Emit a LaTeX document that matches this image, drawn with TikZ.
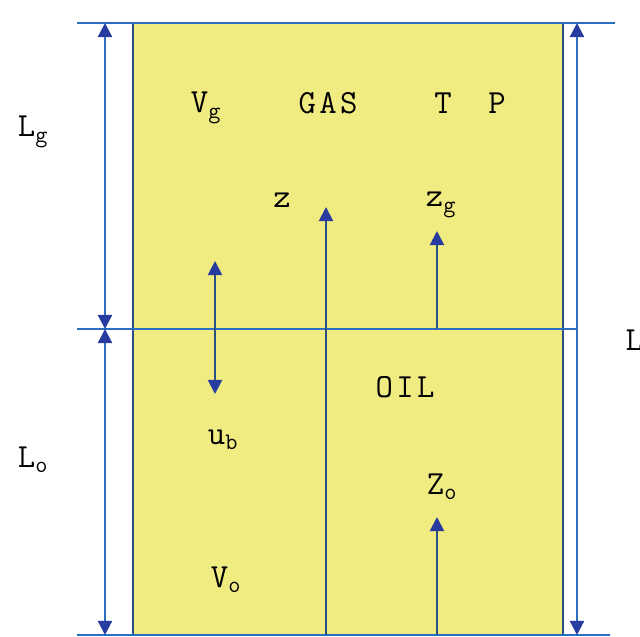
\documentclass[tikz,border=0pt]{standalone}
\usepackage{fontspec}
\setmonofont{Latin Modern Mono}[LetterSpace=10]
\usetikzlibrary{arrows.meta}
\definecolor{fillY}{RGB}{241,236,130}
\definecolor{lineB}{RGB}{45,110,190}
\definecolor{tipB}{RGB}{40,60,160}
\definecolor{edgeB}{RGB}{40,80,130}
\tikzset{
  >={Triangle[width=10pt,length=10pt,color=tipB]},
  dimline/.style={draw=lineB, line width=1.5pt},
  vecarrow/.style={draw=edgeB, line width=1.4pt, ->},
  dimarrow/.style={draw=lineB, line width=1.5pt, <->},
  lab/.style={font=\ttfamily\fontsize{24}{26}\selectfont, inner sep=1pt}
}
\begin{document}
\begin{tikzpicture}[x=0.025cm,y=-0.025cm]
\useasboundingbox (0,0) rectangle (640,637);
\fill[white] (0,0) rectangle (640,637);
% tank
\fill[fillY] (133,23) rectangle (563,635);
\draw[edgeB, line width=1.2pt] (133,23) -- (133,635);
\draw[edgeB, line width=1.2pt] (563,23) -- (563,635);
% horizontal lines
\coordinate (tl) at (77,23); \coordinate (tr) at (615,23);
\coordinate (ml) at (77,329); \coordinate (mr) at (577,329);
\coordinate (bl) at (77,635); \coordinate (br) at (610,635);
\draw[dimline] (tl) -- (tr);
\draw[dimline] (ml) -- (mr);
\draw[dimline] (bl) -- (br);
% dimension arrows
\coordinate (lgT) at (105,23); \coordinate (lgB) at (105,329);
\coordinate (loT) at (105,329); \coordinate (loB) at (105,635);
\coordinate (LT) at (577,23); \coordinate (LB) at (577,635);
\draw[dimarrow] (lgT) -- (lgB);
\draw[dimarrow] (loT) -- (loB);
\draw[dimarrow] (LT) -- (LB);
% inner arrows
\coordinate (zS) at (326,635); \coordinate (zE) at (326,207);
\coordinate (zgS) at (437,329); \coordinate (zgE) at (437,231);
\coordinate (zoS) at (437,635); \coordinate (zoE) at (437,517);
\coordinate (ubT) at (215,261); \coordinate (ubB) at (215,394);
\draw[vecarrow] (zS) -- (zE);
\draw[vecarrow] (zgS) -- (zgE);
\draw[vecarrow] (zoS) -- (zoE);
\draw[vecarrow, <->] (ubT) -- (ubB);
% labels
\node[lab] (Lg) at (33,132) {L\textsubscript{g}};
\node[lab] (Lo) at (33,460) {L\textsubscript{o}};
\node[lab, anchor=west] (L) at (624,340) {L};
\node[lab] (Vg) at (206,108) {V\textsubscript{g}};
\node[lab] (gas) at (328,103) {GAS};
\node[lab] (T) at (443,103) {T};
\node[lab] (P) at (497,103) {P};
\node[lab] (z) at (282,200) {z};
\node[lab] (zg) at (441,205) {z\textsubscript{g}};
\node[lab] (oil) at (405,387) {OIL};
\node[lab] (ub) at (223,440) {u\textsubscript{b}};
\node[lab] (zo) at (442,487) {Z\textsubscript{o}};
\node[lab] (Vo) at (226,580) {V\textsubscript{o}};
\end{tikzpicture}
\end{document}
